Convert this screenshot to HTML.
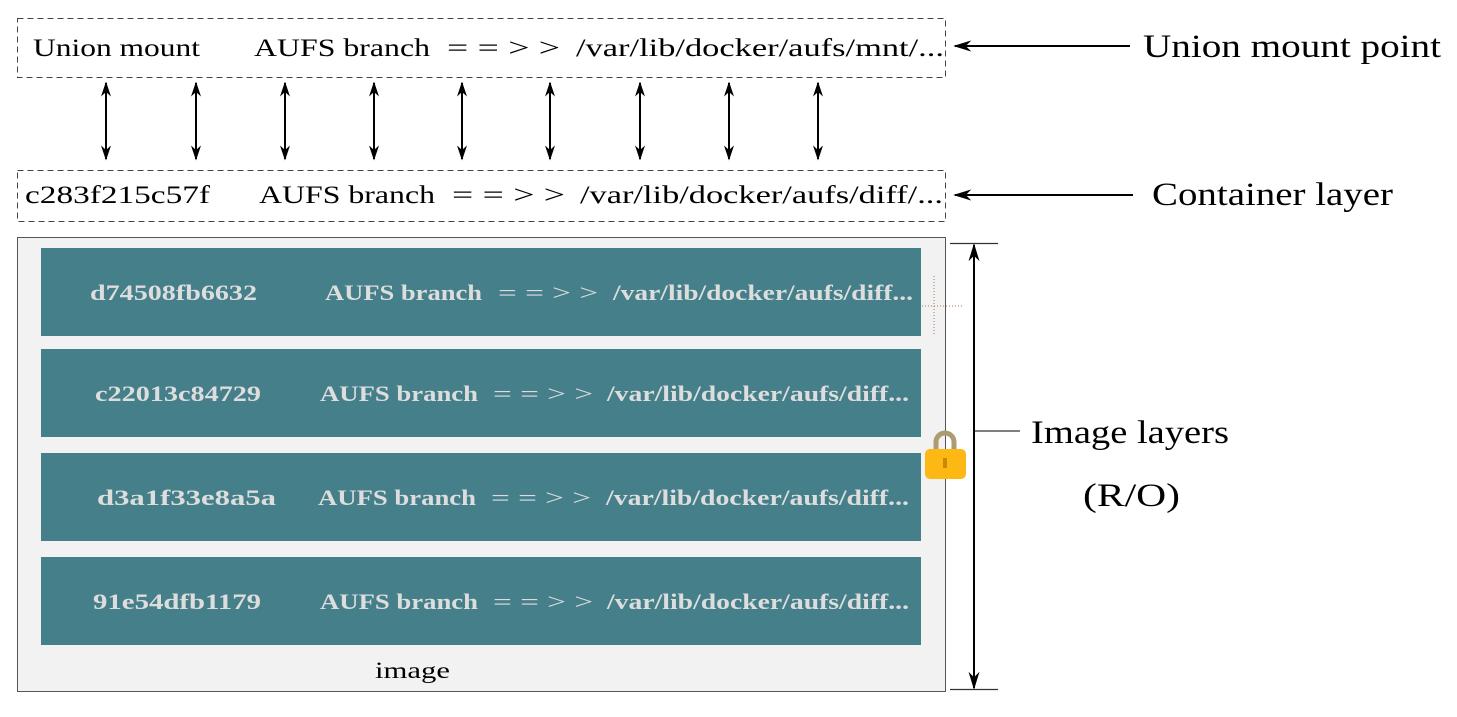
<!DOCTYPE html>
<html><head><style>body{margin:0;background:#fff}svg{display:block}</style></head><body>
<svg width="1457" height="717" viewBox="0 0 1457 717" xmlns="http://www.w3.org/2000/svg" font-family="Liberation Serif, serif">
<defs>
<marker id="a" viewBox="0 0 10 10" refX="9" refY="5" markerWidth="15" markerHeight="10" orient="auto-start-reverse" markerUnits="userSpaceOnUse" preserveAspectRatio="none"><path d="M0,0 L10,5 L0,10 L3,5 z" fill="#000"/></marker>
<marker id="b" viewBox="0 0 10 10" refX="9" refY="5" markerWidth="18" markerHeight="11" orient="auto-start-reverse" markerUnits="userSpaceOnUse" preserveAspectRatio="none"><path d="M0,0 L10,5 L0,10 L3,5 z" fill="#000"/></marker>
</defs>
<rect x="17.5" y="18.5" width="928" height="59" fill="#fff" stroke="#444" stroke-dasharray="6,4"/>
<g font-size="25" fill="#000">
<text x="33" y="56" textLength="167" lengthAdjust="spacingAndGlyphs">Union mount</text>
<text x="254" y="56" textLength="176" lengthAdjust="spacingAndGlyphs">AUFS branch</text>
<text x="447" y="56" textLength="113" lengthAdjust="spacingAndGlyphs">= = &gt; &gt;</text>
<text x="576" y="56" textLength="368" lengthAdjust="spacingAndGlyphs">/var/lib/docker/aufs/mnt/...</text>
</g>
<rect x="17.5" y="170.5" width="928" height="51" fill="#fff" stroke="#444" stroke-dasharray="6,4"/>
<g font-size="25" fill="#000">
<text x="25" y="203" textLength="185" lengthAdjust="spacingAndGlyphs">c283f215c57f</text>
<text x="259" y="203" textLength="176" lengthAdjust="spacingAndGlyphs">AUFS branch</text>
<text x="452" y="203" textLength="113" lengthAdjust="spacingAndGlyphs">= = &gt; &gt;</text>
<text x="580" y="203" textLength="363" lengthAdjust="spacingAndGlyphs">/var/lib/docker/aufs/diff/...</text>
</g>
<g stroke="#000" stroke-width="2" marker-start="url(#a)" marker-end="url(#a)">
<line x1="106" y1="83" x2="106" y2="159"/><line x1="196" y1="83" x2="196" y2="159"/>
<line x1="285" y1="83" x2="285" y2="159"/><line x1="374" y1="83" x2="374" y2="159"/>
<line x1="462" y1="83" x2="462" y2="159"/><line x1="550" y1="83" x2="550" y2="159"/>
<line x1="640" y1="83" x2="640" y2="159"/><line x1="729" y1="83" x2="729" y2="159"/>
<line x1="818" y1="83" x2="818" y2="159"/>
</g>
<rect x="17.5" y="237.5" width="928" height="454" fill="#f2f2f2" stroke="#555"/>
<g fill="#45808a">
<rect x="41" y="248" width="880" height="88"/><rect x="41" y="349" width="880" height="88"/>
<rect x="41" y="453" width="880" height="88"/><rect x="41" y="557" width="880" height="88"/>
</g>
<g font-size="22" font-weight="bold" fill="#dddddd">
<text x="90" y="300" textLength="167" lengthAdjust="spacingAndGlyphs">d74508fb6632</text>
<text x="325" y="300" textLength="157" lengthAdjust="spacingAndGlyphs">AUFS branch</text>
<text x="498" y="300" textLength="100" font-weight="normal" lengthAdjust="spacingAndGlyphs">= = &gt; &gt;</text>
<text x="613" y="300" textLength="300" lengthAdjust="spacingAndGlyphs">/var/lib/docker/aufs/diff...</text>
<text x="95" y="401" textLength="166" lengthAdjust="spacingAndGlyphs">c22013c84729</text>
<text x="320" y="401" textLength="158" lengthAdjust="spacingAndGlyphs">AUFS branch</text>
<text x="493" y="401" textLength="100" font-weight="normal" lengthAdjust="spacingAndGlyphs">= = &gt; &gt;</text>
<text x="607" y="401" textLength="302" lengthAdjust="spacingAndGlyphs">/var/lib/docker/aufs/diff...</text>
<text x="97" y="505" textLength="179" lengthAdjust="spacingAndGlyphs">d3a1f33e8a5a</text>
<text x="318" y="505" textLength="158" lengthAdjust="spacingAndGlyphs">AUFS branch</text>
<text x="491" y="505" textLength="100" font-weight="normal" lengthAdjust="spacingAndGlyphs">= = &gt; &gt;</text>
<text x="606" y="505" textLength="303" lengthAdjust="spacingAndGlyphs">/var/lib/docker/aufs/diff...</text>
<text x="93" y="609" textLength="168" lengthAdjust="spacingAndGlyphs">91e54dfb1179</text>
<text x="320" y="609" textLength="158" lengthAdjust="spacingAndGlyphs">AUFS branch</text>
<text x="493" y="609" textLength="100" font-weight="normal" lengthAdjust="spacingAndGlyphs">= = &gt; &gt;</text>
<text x="607" y="609" textLength="302" lengthAdjust="spacingAndGlyphs">/var/lib/docker/aufs/diff...</text>
</g>
<text x="375" y="678" font-size="23" textLength="75" lengthAdjust="spacingAndGlyphs">image</text>
<g stroke="#b07050" stroke-dasharray="1,2" stroke-width="1"><line x1="934" y1="276" x2="934" y2="334"/><line x1="922" y1="306" x2="963" y2="306"/></g>
<g stroke="#333" stroke-width="1.3"><line x1="950" y1="243.5" x2="998" y2="243.5"/><line x1="950" y1="689.5" x2="998" y2="689.5"/><line x1="974" y1="431" x2="1020" y2="431"/></g>
<line x1="974" y1="245" x2="974" y2="688" stroke="#000" stroke-width="2" marker-start="url(#b)" marker-end="url(#b)"/>
<path d="M936,452 v-10 a9,9 0 0 1 18,0 v10" fill="none" stroke="#ad9b72" stroke-width="5"/>
<rect x="925" y="449" width="41" height="30" rx="5" fill="#fdb813"/>
<rect x="943" y="458" width="4" height="10" fill="#c78a00"/>
<line x1="1130" y1="46" x2="955" y2="46" stroke="#000" stroke-width="2" marker-end="url(#b)"/>
<line x1="1133" y1="195" x2="955" y2="195" stroke="#000" stroke-width="2" marker-end="url(#b)"/>
<g font-size="33" fill="#000">
<text x="1143" y="57" textLength="298" lengthAdjust="spacingAndGlyphs">Union mount point</text>
<text x="1152" y="205" textLength="241" lengthAdjust="spacingAndGlyphs">Container layer</text>
<text x="1031" y="443" textLength="198" lengthAdjust="spacingAndGlyphs">Image layers</text>
<text x="1083" y="506" textLength="97" lengthAdjust="spacingAndGlyphs">(R/O)</text>
</g>
</svg>
</body></html>
